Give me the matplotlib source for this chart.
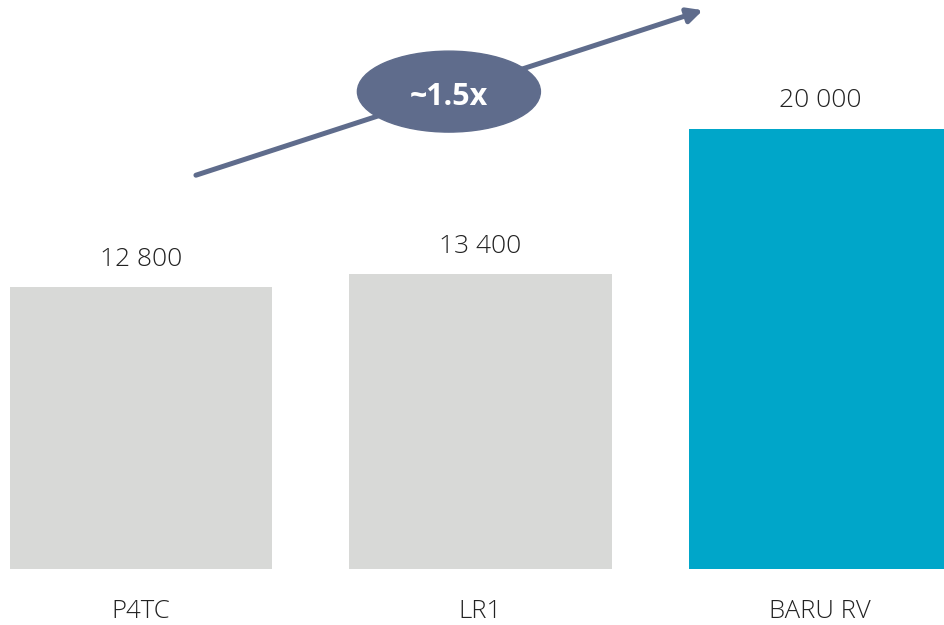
import matplotlib.pyplot as plt
from matplotlib.patches import Ellipse

categories = ['P4TC', 'LR1', 'BARU RV']
values = [12800, 13400, 20000]
value_labels = ['12 800', '13 400', '20 000']
colors = ['#D8D9D7', '#D8D9D7', '#00A6C9']
growth_label = '~1.5x'

plt.rcParams['font.family'] = ['Open Sans', 'DejaVu Sans']

fig = plt.figure(figsize=(9.44, 6.25), dpi=100)
ax = fig.add_axes([0, 0, 1, 1])

x = range(len(categories))
bars = ax.bar(x, values, width=0.772, color=colors)

for xi, v, lab in zip(x, values, value_labels):
    ax.annotate(lab, (xi, v), xytext=(0, 15.5), textcoords='offset points',
                ha='center', va='baseline', fontsize=19, weight='light',
                color='#222222')

for xi, cat in zip(x, categories):
    ax.annotate(cat, (xi, 0), xytext=(0, -35.5), textcoords='offset points',
                ha='center', va='baseline', fontsize=18.5, weight='light',
                color='#222222')

arrow_col = '#5F6C8C'
ax.annotate('', xy=(1.655, 25400), xytext=(0.162, 17900),
            arrowprops=dict(arrowstyle='-|>,head_length=0.9,head_width=0.45',
                            color=arrow_col, lw=3.6, shrinkA=0, shrinkB=0),
            zorder=3)

ell = Ellipse((0.907, 21700), 0.539, 3680, color=arrow_col, zorder=4)
ax.add_patch(ell)
ax.text(0.907, 21450, growth_label, ha='center', va='center', fontsize=22,
        weight='bold', color='white', zorder=5)

ax.set_xlim(-0.415, 2.365)
ax.set_ylim(-2545, 25864)
ax.axis('off')

fig.savefig('out.png', dpi=100)
